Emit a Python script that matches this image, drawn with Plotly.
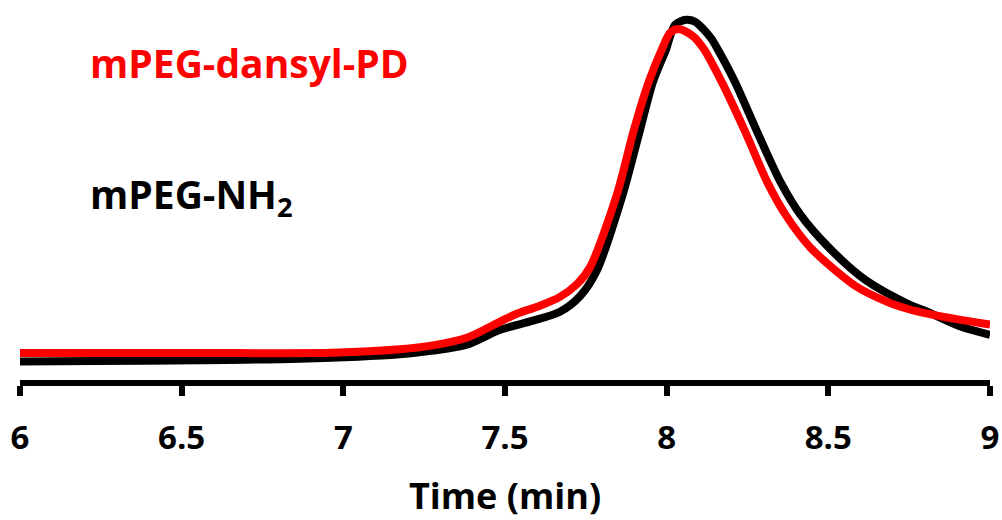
import plotly.graph_objects as go

# Retention time (min) and detector signal (a.u.)
t_nh2 = [6.000, 6.865, 7.175, 7.277, 7.382, 7.485, 7.587, 7.670, 7.732, 7.784,
         7.864, 7.916, 7.957, 7.998, 8.026, 8.060, 8.088, 8.113, 8.138, 8.160,
         8.212, 8.280, 8.351, 8.413, 8.501, 8.615, 8.744, 8.806, 8.909, 9.000]
s_nh2 = [5.90, 6.66, 7.88, 8.89, 10.52, 14.59, 17.12, 19.57, 23.83, 30.90,
         51.71, 68.94, 82.53, 91.58, 98.40, 99.73, 99.20, 97.20, 94.60, 91.30,
         82.53, 68.94, 55.35, 46.28, 37.23, 28.26, 21.82, 19.57, 15.49, 13.23]

t_pd = [6.000, 6.556, 6.967, 7.175, 7.277, 7.382, 7.485, 7.537, 7.608, 7.670,
        7.723, 7.763, 7.846, 7.897, 7.944, 7.985, 8.011, 8.037, 8.082, 8.116,
        8.171, 8.243, 8.310, 8.367, 8.444, 8.584, 8.682, 8.744, 8.806,
        8.909, 9.000]
s_pd = [8.23, 8.23, 8.29, 9.24, 10.33, 12.42, 16.85, 19.02, 21.20, 23.64,
        27.17, 31.79, 51.71, 68.94, 82.53, 91.58, 96.20, 97.20, 95.20, 91.58,
        82.53, 68.94, 55.35, 46.28, 37.23, 26.63, 22.28, 20.38, 19.02,
        17.31, 16.03]

x_ticks = [6, 6.5, 7, 7.5, 8, 8.5, 9]
x_tick_text = ["6", "6.5", "7", "7.5", "8", "8.5", "9"]

FONT = "Open Sans"

fig = go.Figure()
fig.add_trace(go.Scatter(x=t_nh2, y=s_nh2, mode="lines",
                         line=dict(color="black", width=8, shape="spline", smoothing=0.8),
                         name="mPEG-NH2", showlegend=False, hoverinfo="skip"))
fig.add_trace(go.Scatter(x=t_pd, y=s_pd, mode="lines",
                         line=dict(color="#ff0000", width=8, shape="spline", smoothing=0.8),
                         name="mPEG-dansyl-PD", showlegend=False, hoverinfo="skip"))

fig.add_annotation(text="mPEG-dansyl-PD", xref="paper", yref="paper",
                   x=0.070, y=0.835, xanchor="left", yanchor="middle", showarrow=False,
                   font=dict(family=FONT, size=39, color="#ff0000", weight="bold"))
fig.add_annotation(text="mPEG-NH<sub>2</sub>", xref="paper", yref="paper",
                   x=0.070, y=0.485, xanchor="left", yanchor="middle", showarrow=False,
                   font=dict(family=FONT, size=39, color="black", weight="bold"))

fig.update_layout(
    width=1002, height=520,
    margin=dict(l=20, r=12, t=0, b=136),
    paper_bgcolor="white", plot_bgcolor="white",
    font=dict(family=FONT, color="black"),
    xaxis=dict(range=[6, 9], tickvals=x_ticks, ticktext=x_tick_text,
               showgrid=False, zeroline=False, showline=True, linecolor="black", linewidth=6,
               ticks="outside", ticklen=10, tickwidth=6, tickcolor="black",
               ticklabelstandoff=13,
               tickfont=dict(family=FONT, size=33, color="black", weight="bold"),
               title=dict(text="Time (min)", standoff=36,
                          font=dict(family=FONT, size=36, color="black", weight="bold"))),
    yaxis=dict(range=[0.815, 105.16], visible=False),
)

fig.write_html(
    "out.html",
    config={"displayModeBar": False, "staticPlot": True},
    post_script=("document.documentElement.style.margin='0';document.body.style.margin='0';"
                 "document.documentElement.style.overflow='hidden';document.body.style.overflow='hidden';"),
)
